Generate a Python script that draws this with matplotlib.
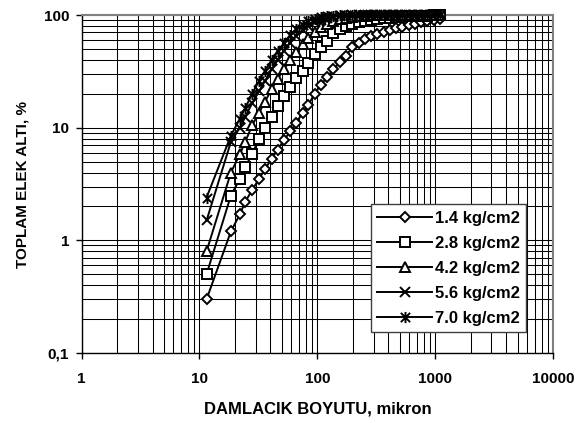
import matplotlib

matplotlib.use("Agg")
import matplotlib.pyplot as plt
from matplotlib.path import Path
from matplotlib.ticker import FixedLocator, FuncFormatter, NullFormatter


# damlacik boyutu, mikron (tum seriler icin ortak)
sizes = [
    11.5, 18.5, 22, 24.5, 28, 32, 36, 41, 46, 52, 59, 66, 75, 84, 95,
    107, 121, 137, 155, 175, 198, 224, 253, 286, 323, 365, 412, 466,
    527, 596, 673, 761, 860, 972, 1100,
]

# toplam elek alti, %
p_14 = [
    0.3, 1.2, 1.7, 2.2, 2.8, 3.5, 4.3, 5.3, 6.4, 7.7, 9.3, 11, 13.5, 16,
    20, 24, 28, 33, 38, 43, 52, 57, 61, 65, 68.5, 71, 74, 76.5, 79, 81.5,
    84, 86, 88, 90, 92,
]
p_28 = [
    0.5, 2.5, 3.5, 4.5, 5.8, 8, 10, 12.5, 15.5, 19, 23, 27.5, 32, 37.5,
    45, 52, 59, 69, 75, 80, 84, 87, 89, 91, 92.5, 94, 95, 96, 96.8, 97.5,
    98, 98.5, 99, 99.3, 99.6,
]
p_42 = [
    0.8, 4, 5.8, 7.5, 10.5, 13.5, 17, 22, 27, 33, 40, 47, 55, 63, 71, 78,
    84, 89, 92.5, 95, 97, 98, 98.7, 99.2, 99.5, 99.6, 99.7, 99.8, 99.8,
    99.9, 99.9, 99.9, 100, 100, 100,
]
p_56 = [
    1.5, 7.5, 10, 12.5, 16.5, 21, 26, 33, 40, 48, 57, 65, 73, 80, 86, 91,
    94, 96.5, 98, 99, 99.5, 99.7, 99.8, 99.9, 99.9, 100, 100, 100, 100,
    100, 100, 100, 100, 100, 100,
]
p_70 = [
    2.4, 8.5, 12, 15, 20, 26, 32, 40, 48, 56, 67, 75, 82, 89, 93, 96, 98,
    99, 99.5, 99.7, 99.8, 99.9, 100, 100, 100, 100, 100, 100, 100, 100,
    100, 100, 100, 100, 100,
]

labels = ["1.4 kg/cm2", "2.8 kg/cm2", "4.2 kg/cm2", "5.6 kg/cm2", "7.0 kg/cm2"]
x_ticks = [1, 10, 100, 1000, 10000]
y_ticks = [0.1, 1, 10, 100]
y_tick_labels = ["0,1", "1", "10", "100"]

# X ile dikey cizgi: Excel yildiz isareti
asterisk = Path(
    [(-1, -1), (1, 1), (-1, 1), (1, -1), (0, -1.2), (0, 1.2)],
    [Path.MOVETO, Path.LINETO] * 3,
)

plt.rcParams["font.family"] = ["Liberation Sans", "DejaVu Sans"]
plt.rcParams["font.weight"] = "bold"

series = [
    (p_14, "D", 5.0),
    (p_28, "s", 7.0),
    (p_42, "^", 7.0),
    (p_56, "x", 7.0),
    (p_70, asterisk, 8.0),
]


def minor_positions(low, high):
    values = []
    decade = low
    while decade < high:
        values.extend(decade * k for k in range(2, 10))
        decade *= 10
    return values


fig = plt.figure(figsize=(5.84, 4.23), dpi=100)
ax = fig.add_axes([0.1396, 0.1655, 0.8075, 0.799])

for (values, marker, size), label in zip(series, labels):
    ax.plot(
        sizes,
        values,
        color="black",
        linewidth=1.4,
        marker=marker,
        markersize=size,
        markerfacecolor="white",
        markeredgecolor="black",
        markeredgewidth=1.4,
        label=label,
        clip_on=False,
        zorder=3,
    )

ax.set_xscale("log")
ax.set_yscale("log")
ax.set_xlim(1, 10000)
ax.set_ylim(0.1, 100)

ax.xaxis.set_major_locator(FixedLocator(x_ticks))
ax.xaxis.set_minor_locator(FixedLocator(minor_positions(1, 10000)))
ax.yaxis.set_major_locator(FixedLocator(y_ticks))
ax.yaxis.set_minor_locator(FixedLocator(minor_positions(0.1, 100)))
ax.xaxis.set_major_formatter(FuncFormatter(lambda v, _: f"{v:.0f}"))
ax.yaxis.set_major_formatter(
    FuncFormatter(lambda v, _: y_tick_labels[y_ticks.index(v)] if v in y_ticks else "")
)
ax.xaxis.set_minor_formatter(NullFormatter())
ax.yaxis.set_minor_formatter(NullFormatter())

ax.grid(which="both", color="black", linewidth=0.75)
ax.set_axisbelow(True)
ax.tick_params(which="major", direction="out", length=4, width=1, labelsize=11)
ax.tick_params(axis="x", pad=10)
ax.tick_params(axis="y", pad=5)
ax.tick_params(which="minor", length=0)

for side in ["top", "right"]:
    ax.spines[side].set_color("#808080")
    ax.spines[side].set_linewidth(1.5)
for side in ["bottom", "left"]:
    ax.spines[side].set_color("black")
    ax.spines[side].set_linewidth(1)

ax.set_xlabel("DAMLACIK BOYUTU, mikron", fontsize=12, fontweight="bold", labelpad=11)
ax.set_ylabel("TOPLAM ELEK ALTI, %", fontsize=11, fontweight="bold", labelpad=10)

legend = ax.legend(
    loc="upper left",
    bbox_to_anchor=(0.613, 0.441),
    borderaxespad=0,
    fontsize=12,
    numpoints=1,
    handlelength=3.3,
    handletextpad=0.15,
    labelspacing=0.6,
    borderpad=0.4,
    fancybox=False,
    framealpha=1,
    edgecolor="#404040",
)
legend.get_frame().set_linewidth(1)
legend.set_zorder(5)

fig.savefig("out.png", dpi=100)
